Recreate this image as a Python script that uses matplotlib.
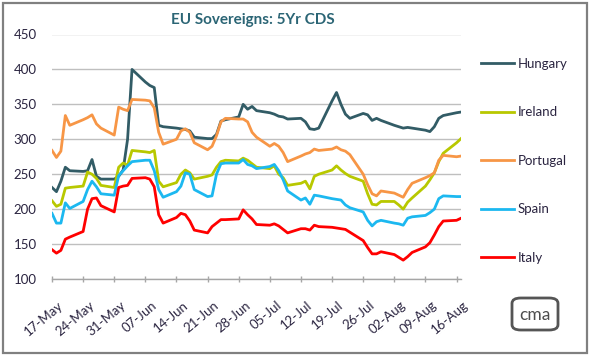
import matplotlib
matplotlib.use("Agg")
import matplotlib.pyplot as plt
import matplotlib.dates as mdates
import matplotlib.transforms as mtransforms
from matplotlib.patches import Rectangle, FancyBboxPatch
import pandas as pd

plt.rcParams['font.family'] = ['Lato', 'DejaVu Sans']

# business days 17-May-2010 .. 17-Aug-2010
dates = pd.bdate_range('2010-05-17', '2010-08-17')

hungary = [231, 225, 240, 260, 255, 254, 255, 271, 247, 243,
           243, 247, 256, 300, 400, 382, 377, 374, 320, 318,
           316, 315, 314, 312, 303, 301, 301, 307, 326, 328,
           332, 350, 343, 347, 341, 338, 336, 333, 332, 329,
           330, 325, 315, 314, 316, 355, 367, 350, 336, 330,
           337, 335, 327, 330, 327, 320, 318, 316, 317, 316,
           313, 311, 318, 330, 334, 338, 339]
ireland = [212, 204, 207, 230, 231, 233, 253, 250, 244, 234,
           231, 260, 266, 263, 284, 282, 281, 284, 240, 232,
           238, 250, 256, 252, 243, 247, 249, 260, 268, 270,
           269, 273, 270, 265, 260, 258, 262, 250, 245, 234,
           237, 240, 229, 247, 250, 256, 262, 256, 251, 247,
           240, 222, 207, 206, 211, 211, 206, 200, 210, 216,
           233, 242, 252, 268, 280, 295, 301]
portugal = [284, 274, 283, 334, 320, 328, 331, 335, 322, 316,
            306, 346, 343, 341, 357, 356, 355, 345, 310, 293,
            300, 312, 315, 310, 295, 285, 290, 305, 325, 330,
            329, 329, 325, 310, 303, 290, 294, 290, 281, 268,
            276, 279, 281, 286, 284, 286, 289, 285, 283, 278,
            250, 235, 222, 219, 226, 223, 220, 217, 228, 237,
            245, 248, 252, 270, 277, 275, 276]
spain = [194, 180, 180, 209, 201, 211, 228, 240, 232, 222,
         220, 248, 255, 262, 268, 270, 270, 255, 228, 217,
         225, 233, 252, 250, 228, 218, 219, 250, 265, 266,
         266, 271, 264, 262, 258, 261, 264, 255, 242, 226,
         213, 216, 207, 220, 219, 215, 214, 213, 206, 202,
         196, 184, 176, 182, 184, 180, 179, 177, 187, 189,
         191, 195, 200, 215, 219, 218, 218]
italy = [142, 137, 141, 157, 160, 168, 200, 215, 216, 205,
         196, 231, 233, 234, 244, 245, 243, 232, 192, 180,
         188, 194, 192, 183, 170, 166, 175, 180, 185, 185,
         186, 199, 192, 186, 178, 177, 179, 176, 171, 166,
         172, 172, 170, 177, 175, 174, 173, 172, 171, 167,
         155, 145, 136, 136, 139, 135, 131, 127, 132, 138,
         146, 152, 163, 175, 183, 184, 187]

names = ['Hungary', 'Ireland', 'Portugal', 'Spain', 'Italy']
colors = ['#325c66', '#b8c800', '#f79646', '#1cb8f0', '#ff0000']
series = [hungary, ireland, portugal, spain, italy]

yticks = [100, 150, 200, 250, 300, 350, 400, 450]
xticks = pd.date_range('2010-05-17', '2010-08-16', freq='7D')

txt = '#2a2440'
grid = '#bfbfbf'

fig = plt.figure(figsize=(5.9, 3.56), dpi=100)
ax = fig.add_axes([52/590, 1 - 279/356, (461 - 52)/590, (279 - 34.5)/356])

for name, col, vals in zip(names, colors, series):
    ax.plot(dates, vals, color=col, lw=2.0, label=name, solid_joinstyle='round')

ax.set_ylim(100, 450)
ax.set_yticks(yticks)
ax.set_xlim(dates[0], dates[-1])
ax.set_xticks(xticks)
ax.xaxis.set_major_formatter(mdates.DateFormatter('%d-%b'))
ax.yaxis.grid(True, color=grid, lw=1.0)
ax.set_axisbelow(True)

for s in ['top', 'right', 'left']:
    ax.spines[s].set_visible(False)
ax.spines['bottom'].set_color('#a6a6a6')
ax.spines['bottom'].set_linewidth(1.0)

ax.tick_params(axis='y', length=0, pad=11, labelsize=9.5, labelcolor=txt)
ax.tick_params(axis='x', direction='inout', length=5, width=1, color='#a6a6a6',
               pad=12, labelsize=9.5, labelcolor=txt)
shift = mtransforms.ScaledTranslation(6/100, 0, fig.dpi_scale_trans)
for lab in ax.get_xticklabels():
    lab.set_rotation(40)
    lab.set_ha('right')
    lab.set_rotation_mode('anchor')
    lab.set_transform(lab.get_transform() + shift)

fig.text(253/590, 1 - 20/356, 'EU Sovereigns: 5Yr CDS', ha='center', va='center',
         fontsize=11, fontweight='bold', color='#2b6575')

leg = ax.legend(loc='upper left', bbox_to_anchor=(481/590, 1 - 58/356),
                bbox_transform=fig.transFigure, frameon=False, fontsize=9.5,
                handlelength=2.5, handletextpad=0.3, labelspacing=2.76,
                borderaxespad=0, borderpad=0)
for t in leg.get_texts():
    t.set_color(txt)

# cma logo
logo = FancyBboxPatch((512/590, 1 - 330/356), 46/590, 32/356,
                      boxstyle='round,pad=0,rounding_size=0.015',
                      transform=fig.transFigure, fill=False,
                      edgecolor='#555555', lw=2.0)
fig.patches.append(logo)
fig.text(535/590, 1 - 315/356, 'cma', ha='center', va='center',
         fontsize=12.5, color='#4d4d4d')

# outer frame
fig.patches.append(Rectangle((3/590, 3/356), 584/590, 350/356,
                             transform=fig.transFigure, fill=False,
                             edgecolor='#808080', lw=1.6))

fig.savefig('out.png', dpi=100)
